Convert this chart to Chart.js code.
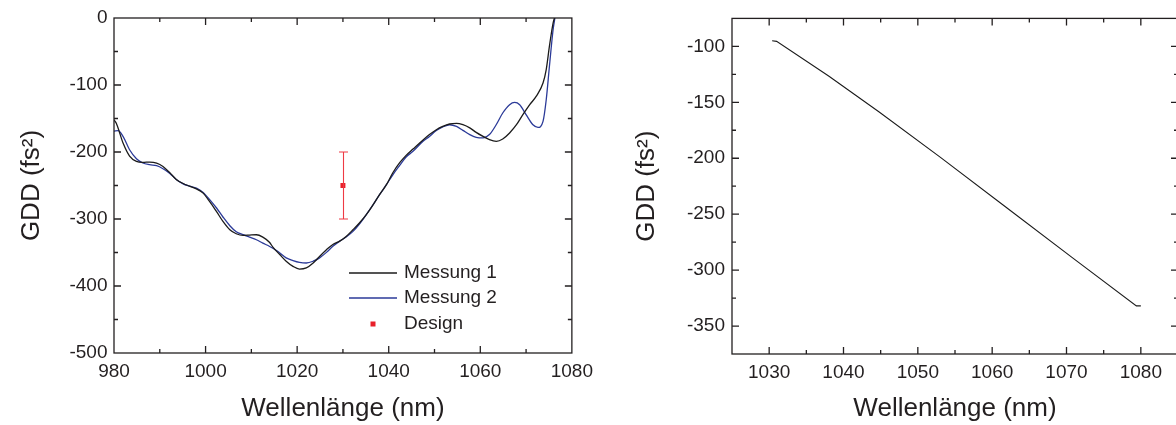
<!DOCTYPE html>
<html><head><meta charset="utf-8">
<script src="https://cdn.jsdelivr.net/npm/chart.js@4.4.1/dist/chart.umd.min.js"></script>
<style>
html,body{margin:0;padding:0;background:#fff;overflow:hidden;width:1176px;height:425px;}
.box{position:absolute;top:0;height:425px;width:600px;}
#b1{left:0;}
#b2{left:600px;}
</style></head><body>
<div class="box" id="b1"><canvas id="c1" width="600" height="425"></canvas></div>
<div class="box" id="b2"><canvas id="c2" width="600" height="425"></canvas></div>
<script>
// ---------- Left panel data ----------
const m1X = [980,980.5,982,983.4,984.9,986.3,987.8,989.3,990.7,992.2,993.6,995.1,996.5,998,999.4,1000.9,1002.4,1003.8,1005.3,1006.7,1008.2,1009.6,1011.1,1012.5,1014,1014.7,1016.2,1017.6,1019.1,1020.5,1022,1023.5,1024.9,1026.4,1027.8,1029.3,1030.7,1032.2,1033.6,1035.1,1036.6,1038,1039.5,1040.9,1042.4,1043.8,1045.3,1047.5,1048.9,1050.4,1051.8,1053.3,1054.8,1056.2,1057.7,1059.1,1060.6,1062,1063.5,1064.9,1066.4,1067.9,1069.3,1070.8,1072.2,1073.7,1074.4,1075.1,1075.9,1076.2];
const m1Y = [-152,-157,-187,-206,-214,-215.5,-215,-216.5,-221.5,-231,-241,-247,-251,-255,-261,-274,-289,-303.6,-316,-322,-324.5,-324,-323.5,-327,-335,-342,-353,-363,-370.7,-374.7,-373,-365.7,-355.8,-345.8,-338,-333,-326,-316,-306,-293.6,-278.7,-263.7,-248.8,-231,-216,-205,-195.6,-182,-174,-166.7,-161.8,-158.2,-157.3,-159.3,-164,-170.7,-176.7,-181.6,-184,-180.6,-171.6,-159.3,-144.3,-129.4,-117,-97,-77,-42,-7.5,0];
const m2X = [980,980.9,982,983.4,984.9,986.3,987.8,989.3,990.7,992.2,993.6,995.1,996.5,998,999.4,1000.9,1002.4,1003.8,1005.3,1006.7,1008.2,1009.6,1011.1,1012.5,1014,1015.5,1017.6,1019.1,1020.5,1022,1023.5,1024.9,1026.4,1027.8,1029.3,1030.7,1032.2,1033.6,1035.1,1036.6,1038,1039.5,1040.9,1042.4,1043.8,1045.3,1047.5,1048.9,1050.4,1051.8,1053.3,1054.8,1056.2,1057.7,1059.1,1060.6,1062,1063.5,1064.9,1066.4,1067.5,1068.6,1070,1071.5,1072.6,1073.7,1074.4,1075.1,1075.9,1076.3];
const m2Y = [-169,-168,-177,-196.6,-210,-216.4,-219,-220.5,-225,-232,-241,-247.6,-251,-254,-260,-271,-283.6,-297,-310,-319,-323.4,-327,-331,-336,-341,-347,-358,-362,-364.7,-365.7,-363,-358,-349.8,-340.8,-333,-326.9,-318.5,-307.5,-293.6,-278.7,-263.7,-248.8,-234,-220,-207.5,-199,-184,-176.7,-168,-162.7,-159.3,-161.8,-167.7,-174,-178,-179,-174,-159,-141.8,-129.4,-126,-129.4,-144.3,-159.3,-163.3,-154.3,-122,-72,-17.5,0];
const designX = [1030];
const designY = [-250];
const designErr = [50];
const leftLabels = ['Messung 1', 'Messung 2', 'Design'];
const leftXTicks = [980, 1000, 1020, 1040, 1060, 1080];
const leftYTicks = [-500, -400, -300, -200, -100, 0];

// ---------- Right panel data ----------
const rX = [1030.4, 1031, 1038, 1044.8, 1053, 1062, 1071, 1079.4, 1080];
const rY = [-95, -95.5, -126.5, -158.7, -199, -244.5, -290, -332, -332];
const rightXTicks = [1030, 1040, 1050, 1060, 1070, 1080];
const rightYTicks = [-350, -300, -250, -200, -150, -100];

const FONT = "'Liberation Sans', Arial, Helvetica, sans-serif";
const TEXT = '#231f20';
const AXIS = '#231f20';

const pts = (xs, ys) => xs.map((x, i) => ({x, y: ys[i]}));

const isMult = (v, m) => Math.abs(((v % m) + m) % m) < 1e-6 || Math.abs(((v % m) + m) % m - m) < 1e-6;

const framePlugin = {
  id: 'frame',
  afterDraw(chart, args, o) {
    const {ctx, chartArea: a, scales: {x, y}} = chart;
    ctx.save();
    ctx.strokeStyle = AXIS; ctx.lineWidth = 1.3;
    ctx.strokeRect(a.left, a.top, a.right - a.left, a.bottom - a.top);
    ctx.beginPath();
    const nx = Math.round((o.xTo - o.xFrom) / o.xMinor);
    for (let i = 0; i <= nx; i++) {
      const v = o.xFrom + i * o.xMinor;
      const px = x.getPixelForValue(v);
      if (px <= a.left + 1 || px >= a.right - 1) continue;
      const len = isMult(v, o.xMajor) ? 7 : 4;
      ctx.moveTo(px, a.bottom); ctx.lineTo(px, a.bottom - len);
      ctx.moveTo(px, a.top); ctx.lineTo(px, a.top + len);
    }
    const ny = Math.round((o.yTo - o.yFrom) / o.yMinor);
    for (let i = 0; i <= ny; i++) {
      const v = o.yFrom + i * o.yMinor;
      const py = y.getPixelForValue(v);
      if (py <= a.top + 1 || py >= a.bottom - 1) continue;
      const len = isMult(v, o.yMajor) ? 7 : 4;
      ctx.moveTo(a.left, py); ctx.lineTo(a.left + len, py);
      ctx.moveTo(a.right, py); ctx.lineTo(a.right - len, py);
    }
    ctx.stroke();
    ctx.restore();
  }
};

const ERR_COLOR = '#ee3a44';
const errPlugin = {
  id: 'errbars',
  afterDatasetsDraw(chart) {
    const {ctx, scales: {x, y}} = chart;
    ctx.save();
    ctx.strokeStyle = ERR_COLOR; ctx.lineWidth = 1.1;
    ctx.beginPath();
    designX.forEach((xv, i) => {
      const px = Math.round(x.getPixelForValue(xv)) + 0.5;
      const top = y.getPixelForValue(designY[i] + designErr[i]);
      const bot = y.getPixelForValue(designY[i] - designErr[i]);
      ctx.moveTo(px, top); ctx.lineTo(px, bot);
      ctx.moveTo(px - 4.5, top); ctx.lineTo(px + 4.5, top);
      ctx.moveTo(px - 4.5, bot); ctx.lineTo(px + 4.5, bot);
    });
    ctx.stroke();
    ctx.restore();
  }
};

const LEG = {x0: 349, len: 48, tx: 404, ys: [273, 298, 324]};
const legendPlugin = {
  id: 'customLegend',
  afterDraw(chart) {
    const {ctx} = chart;
    ctx.save();
    ctx.font = '19px ' + FONT;
    ctx.textBaseline = 'middle';
    chart.data.datasets.forEach((ds, i) => {
      const yy = LEG.ys[i];
      if (ds.showLine === false) {
        ctx.fillStyle = ds.pointBackgroundColor;
        ctx.fillRect(LEG.x0 + LEG.len / 2 - 2.5, yy - 2.5, 5, 5);
      } else {
        ctx.strokeStyle = ds.borderColor; ctx.lineWidth = 1.3;
        ctx.beginPath(); ctx.moveTo(LEG.x0, yy); ctx.lineTo(LEG.x0 + LEG.len, yy); ctx.stroke();
      }
      ctx.fillStyle = TEXT;
      ctx.fillText(ds.label, LEG.tx, yy);
    });
    ctx.restore();
  }
};

function makeOptions(c) {
  return {
    responsive: false,
    animation: false,
    layout: {padding: {left: 0, top: c.top, right: c.right, bottom: 0}},
    elements: {point: {radius: 0}},
    plugins: {
      legend: {display: false},
      tooltip: {enabled: false},
      frame: c.frame
    },
    scales: {
      x: {
        type: 'linear', min: c.xMin, max: c.xMax,
        grid: {display: false, drawTicks: false}, border: {display: false},
        afterBuildTicks: s => { s.ticks = c.xTicks.map(v => ({value: v})); },
        ticks: {autoSkip: false, maxRotation: 0,
          color: TEXT, font: {family: FONT, size: 19}, padding: 7,
          callback: v => String(v)},
        title: {display: true, text: 'Wellenlänge (nm)', color: TEXT,
          font: {family: FONT, size: 26}, padding: {top: 0, bottom: 1}},
        afterFit: s => { s.height = c.xh; }
      },
      y: {
        type: 'linear', min: c.yMin, max: c.yMax,
        grid: {display: false, drawTicks: false}, border: {display: false},
        afterBuildTicks: s => { s.ticks = c.yTicks.map(v => ({value: v})); },
        ticks: {autoSkip: false,
          color: TEXT, font: {family: FONT, size: 19}, padding: c.yPad,
          callback: v => String(v)},
        title: {display: true, text: 'GDD (fs²)', color: TEXT,
          font: {family: FONT, size: 26}, padding: {top: c.yTitlePad, bottom: 0}},
        afterFit: s => { s.width = c.yw; }
      }
    }
  };
}

new Chart(document.getElementById('c1'), {
  type: 'line',
  data: {
    datasets: [
      {label: leftLabels[0], data: pts(m1X, m1Y), borderColor: '#1b1b1b', borderWidth: 1.3,
       cubicInterpolationMode: 'monotone', pointRadius: 0, fill: false},
      {label: leftLabels[1], data: pts(m2X, m2Y), borderColor: '#2b3a98', borderWidth: 1.3,
       cubicInterpolationMode: 'monotone', pointRadius: 0, fill: false},
      {label: leftLabels[2], data: pts(designX, designY), showLine: false,
       pointStyle: 'rect', pointRadius: 3.5, pointBackgroundColor: '#e8202a',
       pointBorderColor: '#e8202a', pointBorderWidth: 0, borderColor: '#e8202a'}
    ]
  },
  options: makeOptions({
    top: 18, right: 28, xh: 72, yw: 114, yPad: 6.5, yTitlePad: 16,
    xMin: 980, xMax: 1080, yMin: -500, yMax: 0, xTicks: leftXTicks, yTicks: leftYTicks,
    frame: {xFrom: 980, xTo: 1080, xMinor: 10, xMajor: 20, yFrom: -500, yTo: 0, yMinor: 50, yMajor: 100}
  }),
  plugins: [framePlugin, errPlugin, legendPlugin]
});

new Chart(document.getElementById('c2'), {
  type: 'line',
  data: {
    datasets: [
      {label: 'GDD', data: pts(rX, rY), borderColor: '#1b1b1b', borderWidth: 1.1,
       tension: 0, pointRadius: 0, fill: false}
    ]
  },
  options: makeOptions({
    top: 18, right: 22, xh: 71, yw: 132, yPad: 7, yTitlePad: 31,
    xMin: 1025, xMax: 1085, yMin: -375, yMax: -75, xTicks: rightXTicks, yTicks: rightYTicks,
    frame: {xFrom: 1025, xTo: 1085, xMinor: 5, xMajor: 10, yFrom: -375, yTo: -75, yMinor: 25, yMajor: 50}
  }),
  plugins: [framePlugin]
});
</script>
</body></html>
